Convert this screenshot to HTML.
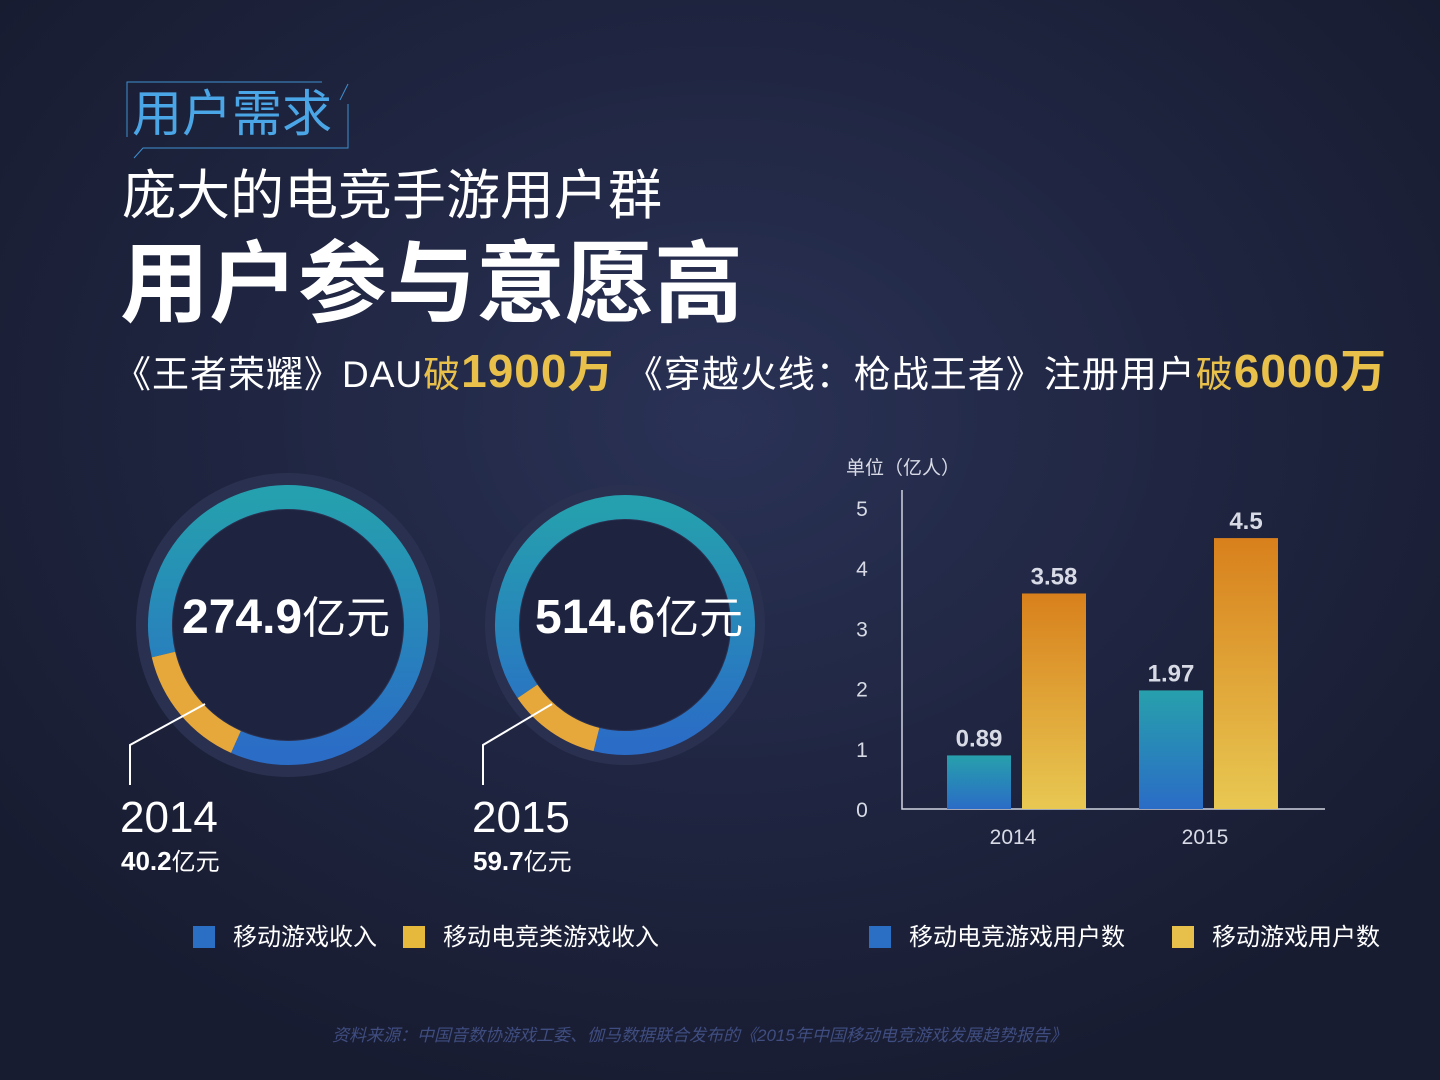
<!DOCTYPE html>
<html><head><meta charset="utf-8"><style>
html,body{margin:0;padding:0}
body{width:1440px;height:1080px;overflow:hidden;position:relative;font-family:"Liberation Sans","Noto Sans CJK SC",sans-serif;
background:radial-gradient(ellipse 900px 700px at 720px 420px,#2a3256 0%,#1f2540 55%,#181c31 100%);color:#fff}
.abs{position:absolute;white-space:nowrap}
</style></head><body>
<svg class="abs" style="left:0;top:0" width="1440" height="1080">
<polyline points="127,137 127,82 322,82" fill="none" stroke="#3f8fd0" stroke-width="1"/>
<line x1="348" y1="84" x2="340" y2="100" stroke="#3f8fd0"/>
<polyline points="348,104 348,148 143,148 134,158" fill="none" stroke="#3f8fd0" stroke-width="1"/>
</svg>
<div class="abs" style="left:132px;top:84px;font-size:50px;color:#4aa6e6;line-height:60px">用户需求</div>
<div class="abs" style="left:122px;top:162px;font-size:54px;line-height:68px">庞大的电竞手游用户群</div>
<div class="abs" style="left:120px;top:234px;font-size:89px;font-weight:bold;line-height:100px">用户参与意愿高</div>
<div class="abs" style="left:114px;top:344px;font-size:37px;letter-spacing:1px;line-height:54px">《王者荣耀》DAU<span style="color:#e8c04a">破<b style="font-size:46px">1900万</b></span> 《穿越火线：枪战王者》注册用户<span style="color:#e8c04a">破<b style="font-size:46px">6000万</b></span></div>

<svg class="abs" style="left:0;top:0" width="1440" height="1080" id="donuts"></svg>

<div class="abs" style="left:182px;top:590px;font-size:44px;line-height:56px"><b style="font-size:48px">274.9</b>亿元</div>
<div class="abs" style="left:535px;top:590px;font-size:44px;line-height:56px"><b style="font-size:48px">514.6</b>亿元</div>
<div class="abs" style="left:120px;top:792px;font-size:44px;line-height:52px">2014</div>
<div class="abs" style="left:121px;top:846px;font-size:24px;line-height:30px"><b style="font-size:26px">40.2</b>亿元</div>
<div class="abs" style="left:472px;top:792px;font-size:44px;line-height:52px">2015</div>
<div class="abs" style="left:473px;top:846px;font-size:24px;line-height:30px"><b style="font-size:26px">59.7</b>亿元</div>

<div class="abs" style="left:193px;top:922px;font-size:24px;line-height:32px"><span style="display:inline-block;width:22px;height:22px;background:#2a6fc4;vertical-align:-3px;margin-right:18px"></span>移动游戏收入</div>
<div class="abs" style="left:403px;top:922px;font-size:24px;line-height:32px"><span style="display:inline-block;width:22px;height:22px;background:#e6b83c;vertical-align:-3px;margin-right:18px"></span>移动电竞类游戏收入</div>
<div class="abs" style="left:869px;top:922px;font-size:24px;line-height:32px"><span style="display:inline-block;width:22px;height:22px;background:#2a6fc4;vertical-align:-3px;margin-right:18px"></span>移动电竞游戏用户数</div>
<div class="abs" style="left:1172px;top:922px;font-size:24px;line-height:32px"><span style="display:inline-block;width:22px;height:22px;background:#e6c04a;vertical-align:-3px;margin-right:18px"></span>移动游戏用户数</div>

<div class="abs" style="left:332px;top:1024px;font-size:17px;font-style:italic;color:#3f4d80;line-height:24px">资料来源：中国音数协游戏工委、伽马数据联合发布的《2015年中国移动电竞游戏发展趋势报告》</div>

<svg class="abs" style="left:0;top:0" width="1440" height="1080" id="bars">
<defs>
<linearGradient id="gb" x1="0" y1="0" x2="0" y2="1"><stop offset="0" stop-color="#27a0ac"/><stop offset="1" stop-color="#2a6cc6"/></linearGradient>
<linearGradient id="go" x1="0" y1="0" x2="0" y2="1"><stop offset="0" stop-color="#d8801c"/><stop offset="1" stop-color="#e8c852"/></linearGradient>
</defs>
</svg>

<script>
// donut data
const donutYears = ['2014','2015'];
const donutTotals = [274.9, 514.6];
const donutEsport = [40.2, 59.7];
// bar data
const barCategories = ['2014','2015'];
const esportUsers = [0.89, 1.97];
const mobileUsers = [3.58, 4.5];
const yTicks = [0,1,2,3,4,5];

const NS='http://www.w3.org/2000/svg';
function mk(parent,tag,attrs){const e=document.createElementNS(NS,tag);for(const k in attrs)e.setAttribute(k,attrs[k]);parent.appendChild(e);return e;}

// donuts
const dsvg=document.getElementById('donuts');
const geo=[{cx:288,cy:625,r:128,halo:152,start:114,lx:130,ly:785,kx:205,ky:712},{cx:625,cy:625,r:118,halo:140,start:104,lx:483,ly:785,kx:552,ky:712}];
function pt(cx,cy,r,a){const t=a*Math.PI/180;return [cx+r*Math.cos(t),cy+r*Math.sin(t)];}
function arc(cx,cy,r,a0,a1){const p0=pt(cx,cy,r,a0),p1=pt(cx,cy,r,a1);const large=(a1-a0)>180?1:0;return `M${p0[0]},${p0[1]} A${r},${r} 0 ${large} 1 ${p1[0]},${p1[1]}`;}
donutTotals.forEach((tot,i)=>{
  const g=geo[i];
  const grad=mk(dsvg,'linearGradient',{id:'dg'+i,x1:'0',y1:'0',x2:'0',y2:'1'});
  mk(grad,'stop',{offset:'0','stop-color':'#25a0ae'});mk(grad,'stop',{offset:'1','stop-color':'#2a6cc6'});
  const halo=mk(dsvg,'circle',{cx:g.cx,cy:g.cy,r:g.halo,fill:'#2a3050'});
  
  
  mk(dsvg,'circle',{cx:g.cx,cy:g.cy,r:g.r-13,fill:'#1e2440'});
  const sweep=donutEsport[i]/tot*360;
  const ring=mk(dsvg,'path',{d:arc(g.cx,g.cy,g.r,g.start+sweep,g.start+359.99),fill:'none',stroke:'url(#dg'+i+')','stroke-width':24});
  
  
  const seg=mk(dsvg,'path',{d:arc(g.cx,g.cy,g.r,g.start,g.start+sweep),fill:'none',stroke:'#e6a83a','stroke-width':24});
  
  
  const ld=mk(dsvg,'polyline',{points:`${g.lx},${g.ly} ${g.lx},${g.ly-40} ${g.kx},${g.ky-8}`,fill:'none',stroke:'#fff','stroke-width':2});
  
  
});

// bars
const bsvg=document.getElementById('bars');
const y0=809, unit=60.2;
function y(v){return y0-v*unit;}
function gx(i){return 947+i*192;}
const axis=mk(bsvg,'polyline',{points:`902,490 902,${y0} 1325,${y0}`,fill:'none',stroke:'#d0d4e0','stroke-width':1.5});


const unitLbl=mk(bsvg,'text',{x:846,y:474,fill:'#d8dbe6','font-size':19,'font-family':'Liberation Sans, Noto Sans CJK SC, sans-serif'});
unitLbl.textContent='单位（亿人）';


yTicks.forEach(t=>{
  const e=mk(bsvg,'text',{x:862,y:y(t)+8,'text-anchor':'middle',fill:'#d8dbe6','font-size':21,'font-family':'Liberation Sans, sans-serif'});
  e.textContent=t;
  
  
});
barCategories.forEach((c,i)=>{
  const x=gx(i);
  const series=[[esportUsers[i],'url(#gb)','esport-users',x],[mobileUsers[i],'url(#go)','mobile-users',x+75]];
  series.forEach(s=>{
    const r=mk(bsvg,'rect',{x:s[3],y:y(s[0]),width:64,height:y0-y(s[0]),fill:s[1]});
    
    
    const l=mk(bsvg,'text',{x:s[3]+32,y:y(s[0])-9,'text-anchor':'middle',fill:'#d8dbe6','font-size':24,'font-weight':'bold','font-family':'Liberation Sans, sans-serif'});
    l.textContent=s[0];
    
    
  });
  const xl=mk(bsvg,'text',{x:x+66,y:844,'text-anchor':'middle',fill:'#d8dbe6','font-size':21,'font-family':'Liberation Sans, sans-serif'});
  xl.textContent=c;
  
  
});
</script>
</body></html>
